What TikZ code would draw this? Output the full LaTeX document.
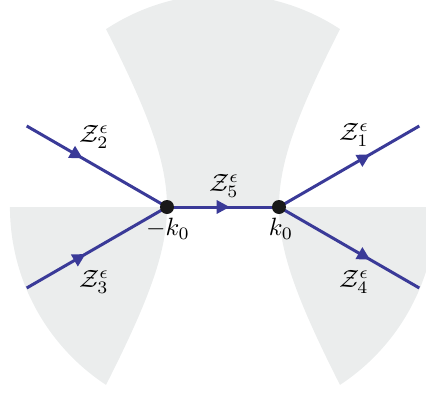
\documentclass[tikz,border=0pt]{standalone}
\usetikzlibrary{decorations.markings,arrows.meta}
\definecolor{shade}{RGB}{235,237,237}
\definecolor{cblue}{RGB}{58,58,152}
\definecolor{dotc}{RGB}{25,25,25}
\begin{document}
\begin{tikzpicture}[x=0.4pt,y=0.4pt,
  region/.style={fill=shade},
  contour/.style={draw=cblue,line width=1.2pt},
  marrow/.style={postaction={decorate},decoration={markings,
     mark=at position #1 with {\arrow{Triangle[length=5.2pt,width=5.2pt]}}}},
  dot/.style={circle,fill=dotc,inner sep=0pt,minimum size=5.6pt},
  lab/.style={inner sep=0pt}]
\useasboundingbox (-223,-187) rectangle (203,207);
\clip (-223,-187) rectangle (203,207);
% shaded sectors bounded by hyperbolas
\fill[region] plot[domain=1.3673:0,samples=40] ({-56*cosh(\x)},{97*sinh(\x)})
  -- plot[domain=0:1.3673,samples=40] ({56*cosh(\x)},{97*sinh(\x)})
  arc[start angle=56.7,end angle=123.3,radius=213] -- cycle;
\fill[region] (-213,0) -- plot[domain=0:1.3673,samples=40] ({-56*cosh(\x)},{-97*sinh(\x)})
  arc[start angle=236.7,end angle=180,radius=213] -- cycle;
\fill[region] (213,0) -- plot[domain=0:1.3673,samples=40] ({56*cosh(\x)},{-97*sinh(\x)})
  arc[start angle=-56.7,end angle=0,radius=213] -- cycle;
% points
\coordinate (mk) at (-56,0);
\coordinate (pk) at (56,0);
\coordinate (e1) at (196.3,81);
\coordinate (e2) at (-196.3,81);
\coordinate (e3) at (-196.3,-81);
\coordinate (e4) at (196.3,-81);
% contours
\draw[contour,marrow=0.56] (mk) -- (pk);
\draw[contour,marrow=0.65] (pk) -- (e1);
\draw[contour,marrow=0.40] (e2) -- (mk);
\draw[contour,marrow=0.42] (e3) -- (mk);
\draw[contour,marrow=0.65] (pk) -- (e4);
\node[dot] (mkdot) at (mk) {};
\node[dot] (pkdot) at (pk) {};
% labels
\node[lab] (l1) at (131,72) {$\mathcal{Z}_1^{\epsilon}$};
\node[lab] (l2) at (-129,70) {$\mathcal{Z}_2^{\epsilon}$};
\node[lab] (l3) at (-129,-75) {$\mathcal{Z}_3^{\epsilon}$};
\node[lab] (l4) at (131,-75) {$\mathcal{Z}_4^{\epsilon}$};
\node[lab] (l5) at (1,21) {$\mathcal{Z}_5^{\epsilon}$};
\node[lab] (lm) at (-55,-22) {$-k_0$};
\node[lab] (lp) at (58,-22) {$k_0$};
\end{tikzpicture}
\end{document}
